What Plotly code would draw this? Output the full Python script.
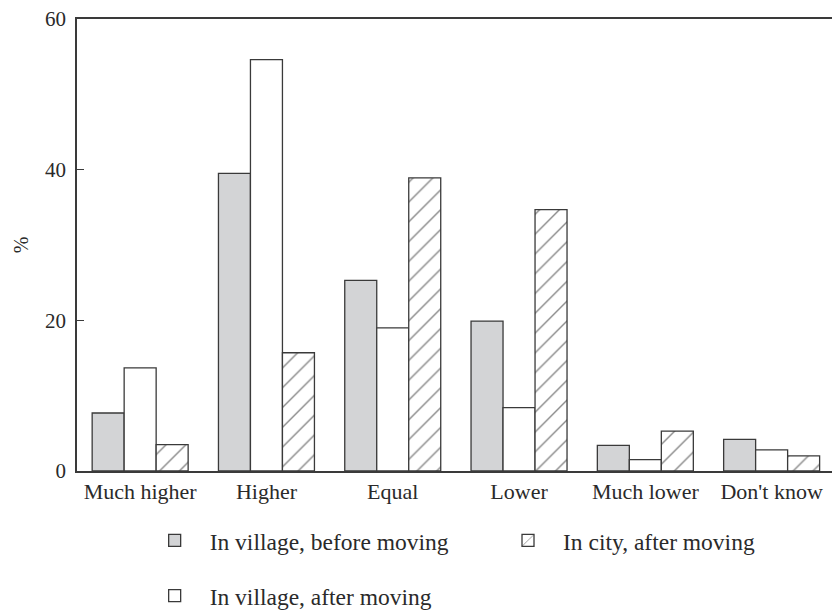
import plotly.graph_objects as go

categories = ["Much higher", "Higher", "Equal", "Lower", "Much lower", "Don't know"]
village_before = [7.7, 39.5, 25.3, 19.9, 3.4, 4.2]
village_after = [13.7, 54.6, 19.0, 8.4, 1.5, 2.8]
city_after = [3.5, 15.7, 38.9, 34.7, 5.3, 2.0]
y_ticks = [0, 20, 40, 60]

FONT = "Liberation Serif"
TXT = "#2a2a2a"
LINE = "#3a3a3a"

fig = go.Figure()
fig.add_trace(go.Bar(
    x=categories, y=village_before, name="In village, before moving",
    marker=dict(color="#d3d4d6", line=dict(color=LINE, width=1.3)),
    legend="legend",
))
fig.add_trace(go.Bar(
    x=categories, y=village_after, name="In village, after moving",
    marker=dict(color="#ffffff", line=dict(color=LINE, width=1.3)),
    legend="legend2",
))
fig.add_trace(go.Bar(
    x=categories, y=city_after, name="In city, after moving",
    marker=dict(color="#ffffff", line=dict(color=LINE, width=1.3),
                pattern=dict(shape="/", fgcolor="#111111", bgcolor="#ffffff",
                             size=14, solidity=0.1)),
    legend="legend3",
))

leg_common = dict(orientation="h", xanchor="left", yanchor="middle", itemwidth=60,
                  font=dict(size=23.5, family=FONT, color=TXT), bgcolor="rgba(0,0,0,0)",
                  visible=True)

fig.update_layout(
    width=832, height=612,
    showlegend=True,
    margin=dict(l=77, r=0, t=19, b=141, autoexpand=False),
    paper_bgcolor="white", plot_bgcolor="white",
    barmode="group", bargap=0.24, bargroupgap=0,
    font=dict(family=FONT, size=22, color=TXT),
    legend=dict(x=0.083, y=-0.154, **leg_common),
    legend3=dict(x=0.551, y=-0.154, **leg_common),
    legend2=dict(x=0.083, y=-0.276, **leg_common),
    xaxis=dict(range=[-0.5, 5.478], showline=True, mirror=True, linecolor=LINE, linewidth=1.5,
               ticks="", showgrid=False, zeroline=False, automargin=False,
               tickfont=dict(size=22, family=FONT, color=TXT)),
    yaxis=dict(range=[0, 60], tickvals=y_ticks, showline=True, linecolor=LINE, linewidth=1.5,
               ticks="inside", ticklen=7, tickcolor=LINE, tickwidth=1.3,
               ticklabelstandoff=5,
               showgrid=False, zeroline=False,
               tickfont=dict(size=21, family=FONT, color=TXT),
               title=dict(text="%", font=dict(size=20, family=FONT, color=TXT), standoff=11),
               automargin=False),
)

fig.write_html("out.html", config={"displayModeBar": False},
               post_script="document.body.style.margin='0px';")
